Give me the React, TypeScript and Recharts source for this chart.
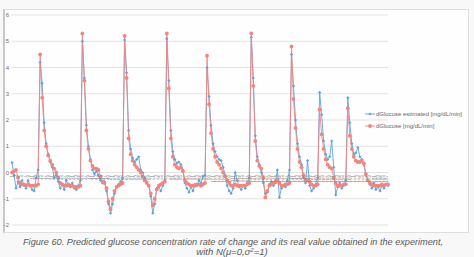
import React from 'react';
import { LineChart, Line, XAxis, YAxis, CartesianGrid } from 'recharts';

// rate of change of glucose, one value per sample [mg/dL/min]
const estimated = [
  0.38, -0.1, -0.6, -0.35, -0.55, -0.3, -0.5, -0.6, -0.3, -0.5, -0.65, -0.7, -0.2, 0.1,
  4.2, 3.4, 1.9, 1.1, 0.7, 0.4, 0.2, -0.2, -0.1, -0.35, -0.6,
  -0.45, -0.65, -0.3, -0.5, -0.55, -0.4, -0.6, -0.65, -0.5, -0.3,
  5.0, 3.6, 1.8, 1.0, 0.5, 0.1, -0.05, 0.05, -0.1, -0.3, -0.4, -0.35, -0.7, -1.2, -1.55, -1.2, -0.8, -0.55, -0.45, -0.35, -0.2,
  5.05, 3.8, 1.6, 0.9, 0.55, 0.4, 0.5, 0.6, 0.1, 0.0, -0.2, -0.35, -0.5, -0.9, -1.55, -1.2, -0.6, -0.55, -0.7, -0.5, -0.3,
  5.1, 3.5, 1.6, 0.8, 0.5, 0.35, 0.4, 0.3, 0.1, -0.4, -0.6, -0.75, -0.55, -0.7, -0.45, -0.5, -0.3, -0.4, -0.15, -0.1,
  4.0, 2.9, 1.8, 1.1, 0.8, 0.6, 0.5, 0.45, 0.2, -0.1, -0.5, -0.7, -0.8, -0.6, 0.0, -0.3, -0.55, -0.65, -0.5, -0.6, -0.4, -0.2,
  5.15, 3.6, 1.4, 0.6, 0.3, 0.0, -0.4, -0.8, -0.75, -0.45, -0.35, -0.5, -0.4, 0.1, -0.95, -0.6, -0.5, -0.55, -0.3, 0.1,
  4.5, 3.3, 2.0, 1.1, 0.6, 0.3, -0.2, -0.4, 0.45, -0.5, -0.7, -0.6, -0.45, -0.2,
  3.05, 2.2, 1.2, 0.7, 0.5, 0.6, 1.2, 0.2, -0.85, -0.55, -0.4, -0.6, -0.5, -0.3,
  2.85, 1.9, 1.1, 0.7, 0.75, 0.95, 0.6, 0.5, 0.3, -0.1, -0.3, -0.45, -0.6, -0.4, -0.65, -0.55, -0.7, -0.5, -0.6, -0.45, -0.5,
];

const measured = [
  0.0, 0.05, 0.1, -0.2, -0.4, -0.45, -0.45, -0.5, -0.45, -0.5, -0.5, -0.5, -0.5, -0.45,
  4.5, 2.85, 1.6, 1.0, 0.65, 0.45, 0.3, 0.15, 0.0, -0.2, -0.4,
  -0.45, -0.5, -0.5, -0.45, -0.5, -0.5, -0.55, -0.55, -0.55, -0.5,
  5.3, 3.5, 1.6, 0.9, 0.45, 0.25, 0.15, 0.15, 0.1, -0.15, -0.35, -0.4, -0.6, -1.1, -1.4, -1.0, -0.7, -0.55, -0.5, -0.45, -0.4,
  5.2, 3.6, 1.3, 0.7, 0.45, 0.3, 0.2, 0.1, 0.0, -0.15, -0.3, -0.4, -0.5, -0.8, -1.25, -1.0, -0.65, -0.5, -0.45, -0.4, -0.35,
  5.3, 3.2, 1.3, 0.6, 0.3, 0.2, 0.15, 0.2, 0.05, -0.3, -0.4, -0.45, -0.5, -0.5, -0.5, -0.45, -0.45, -0.5, -0.45, -0.4,
  4.45, 2.6, 1.5, 0.9, 0.6, 0.4, 0.3, 0.15, 0.0, -0.15, -0.3, -0.4, -0.5, -0.5, -0.45, -0.5, -0.5, -0.5, -0.5, -0.5, -0.45, -0.4,
  5.3, 3.3, 1.2, 0.45, 0.25, 0.15, -0.2, -0.95, -0.7, -0.5, -0.45, -0.4, -0.35, -0.3, -0.4, -0.5, -0.5, -0.45, -0.45, -0.4,
  4.8, 2.8, 1.7, 0.9, 0.4, 0.2, -0.1, -0.3, -0.3, -0.35, -0.45, -0.5, -0.5, -0.45,
  2.4, 1.45, 0.9, 0.5, 0.3, 0.2, 0.15, -0.2, -0.4, -0.5, -0.5, -0.5, -0.45, -0.45,
  2.45, 1.4, 0.9, 0.6, 0.45, 0.4, 0.4, 0.45, 0.35, -0.05, -0.3, -0.4, -0.45, -0.5, -0.5, -0.5, -0.5, -0.45, -0.5, -0.45, -0.45,
];

// sample numbers along the category axis
const samples = measured.map((_, i) => String(i + 1));

const yTicks = [-2, -1, 0, 1, 2, 3, 4, 5, 6];

const seriesNames = ['dGlucose estimated [mg/dL/min]', 'dGlucose [mg/dL/min]'];

const rows = samples.map((s, i) => ({ sample: s, estimated: estimated[i], measured: measured[i] }));

const BLUE = '#5ba3dc';
const RED = '#f6847d';
const FONT = '"Liberation Sans", Arial, sans-serif';

// the category labels hang from the zero gridline, not from the bottom edge
const LABEL_LIFT = 52;

function SampleTick(props: any) {
  const { x, y, payload } = props;
  const top = y - LABEL_LIFT;
  return (
    <text
      x={x}
      y={top}
      dy={1.6}
      transform={`rotate(-90 ${x} ${top})`}
      textAnchor="end"
      fontSize={4.5}
      fill="#8a8a8a"
    >
      {payload.value}
    </text>
  );
}

function Diamond({ cx, cy }: any) {
  if (cx == null || cy == null) return null;
  const r = 1.6;
  return <path d={`M${cx} ${cy - r}L${cx + r} ${cy}L${cx} ${cy + r}L${cx - r} ${cy}Z`} fill={BLUE} />;
}

function SeriesLegend() {
  const colors = [BLUE, RED];
  return (
    <div style={{ position: 'absolute', left: 365, top: 108, fontFamily: FONT, fontSize: 6, color: '#666' }}>
      {seriesNames.map((name, i) => (
        <div key={name} style={{ display: 'flex', alignItems: 'center', height: 12, whiteSpace: 'nowrap' }}>
          <svg width={10} height={6} style={{ marginRight: 1 }}>
            <line x1={0} y1={3} x2={10} y2={3} stroke={colors[i]} strokeWidth={0.9} />
            {i === 0 ? (
              <path d="M5 1.4L6.6 3L5 4.6L3.4 3Z" fill={BLUE} />
            ) : (
              <circle cx={5} cy={3} r={1.9} fill={RED} />
            )}
          </svg>
          <span>{name}</span>
        </div>
      ))}
    </div>
  );
}

export default function App() {
  return (
    <div style={{ position: 'absolute', left: 0, top: 0, width: 474, height: 257, overflow: 'hidden', background: '#f8f8f8' }}>
      <div
        style={{
          position: 'absolute',
          left: 3,
          top: 9,
          width: 463,
          height: 222,
          background: '#fefefe',
          border: '1px solid #dedede',
          borderLeft: '2px solid #c8c8c8',
        }}
      />
      <div style={{ position: 'absolute', left: 0, top: 0 }}>
        <LineChart
          width={474}
          height={257}
          data={rows}
          margin={{ top: 15, right: 86, bottom: 24, left: 0 }}
          style={{ fontFamily: FONT }}
        >
          <CartesianGrid vertical={false} stroke="#dcdcdc" strokeWidth={0.8} />
          <XAxis
            dataKey="sample"
            interval={1}
            tick={SampleTick}
            axisLine={false}
            tickLine={false}
            tickSize={0}
            tickMargin={2}
            height={8}
          />
          <YAxis
            domain={[-2, 6]}
            ticks={yTicks}
            interval={0}
            width={12}
            axisLine={false}
            tickLine={false}
            tickSize={0}
            tickMargin={3}
            tick={{ fontSize: 6, fill: '#6e6e6e' }}
          />
          <Line dataKey="estimated" stroke={BLUE} strokeWidth={0.9} dot={Diamond} isAnimationActive={false} />
          <Line
            dataKey="measured"
            stroke={RED}
            strokeWidth={0.9}
            dot={{ r: 1.9, fill: RED, stroke: 'none' }}
            isAnimationActive={false}
          />
        </LineChart>
      </div>
      <SeriesLegend />
      <svg width={474} height={257} style={{ position: 'absolute', left: 0, top: 0, pointerEvents: 'none' }}>
        <g fontFamily={FONT} fontStyle="italic" fontSize={9.5} fill="#5a5a5a" textAnchor="middle">
          <text x={233} y={244.5} textLength={420} lengthAdjust="spacingAndGlyphs">
            Figure 60. Predicted glucose concentration rate of change and its real value obtained in the experiment,
          </text>
          <text x={232} y={255}>
            with N(μ=0,σ<tspan dy={-3} fontSize={6}>2</tspan><tspan dy={3}>=1)</tspan>
          </text>
        </g>
      </svg>
    </div>
  );
}
